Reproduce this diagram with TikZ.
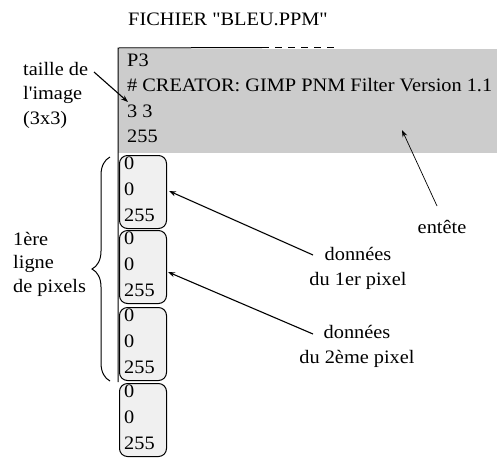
\documentclass[tikz,border=0pt]{standalone}
\usepackage{fontspec}
\setmainfont[FakeStretch=1.07,Ligatures=TeXOff]{Liberation Serif}
\usetikzlibrary{arrows.meta,decorations.pathreplacing}
\definecolor{hdrgray}{RGB}{204,204,204}
\definecolor{pixfill}{RGB}{240,240,240}
\tikzset{
  txt/.style={inner sep=0pt, anchor=base west, font=\fontsize{19pt}{24pt}\selectfont},
  ctxt/.style={inner sep=0pt, anchor=base, font=\fontsize{19pt}{24pt}\selectfont},
  pixbox/.style={draw=black, line width=1pt, fill=pixfill, rounded corners=8pt,
    minimum width=47pt, minimum height=73pt, inner sep=0pt, anchor=north west},
  arr/.style={line width=1.1pt, -{Stealth[length=7pt,width=5pt]}},
  thinarr/.style={line width=0.7pt, -{Stealth[length=7pt,width=5pt]}}
}
\begin{document}
\begin{tikzpicture}[x=1pt,y=-1pt]
\useasboundingbox (0,0) rectangle (502,472);
% title
\node[txt] (title) at (128,25) {FICHIER "BLEU.PPM"};
% header
\node[fill=hdrgray, minimum width=379pt, minimum height=104pt, inner sep=0pt, anchor=north west] (hdr) at (118,49) {};
\node[txt] (l1) at (127,66) {P3};
\node[txt] (l2) at (127,91) {\# CREATOR: GIMP PNM Filter Version 1.1};
\node[txt] (l3) at (127,117) {3 3};
\node[txt] (l4) at (127,142) {255};
% borders
\coordinate (tl) at (118,48);
\coordinate (ts) at (262,47.5);
\coordinate (te) at (340,47.5);
\coordinate (bl) at (118,382);
\draw[line width=1pt] (bl) -- (tl) -- (ts);
\draw[line width=1pt, dash pattern=on 7pt off 6pt] (ts) -- (te);
% pixel boxes
\foreach \i/\y in {1/155, 2/230, 3/307, 4/383}{
  \node[pixbox] (b\i) at (119,\y) {};
  \node[txt] (b\i a) at (124,\y+14) {0};
  \node[txt] (b\i b) at (124,\y+40) {0};
  \node[txt] (b\i c) at (124,\y+66) {255};
}
% brace
\coordinate (brt) at (110,157);
\coordinate (brb) at (110,381);
\draw[line width=1pt, decorate, decoration={brace, amplitude=18pt, mirror}] (brt) -- (brb);
% left labels
\node[txt] (t1) at (23,75) {taille de};
\node[txt] (t2) at (23,99) {l'image};
\node[txt] (t3) at (23,124) {(3x3)};
\node[txt] (p1) at (13,245) {1ère};
\node[txt] (p2) at (13,268.5) {ligne};
\node[txt] (p3) at (13,292) {de pixels};
% right labels
\node[ctxt] (ent) at (442,233) {entête};
\node[ctxt] (d1a) at (358,260) {données};
\node[ctxt] (d1b) at (358,285) {du 1er pixel};
\node[ctxt] (d2a) at (357,338) {données};
\node[ctxt] (d2b) at (357,363) {du 2ème pixel};
% arrows
\coordinate (tailt) at (94,72);
\coordinate (tipt) at (128,102);
\draw[arr] (tailt) -- (tipt);
\coordinate (taile) at (437,206);
\coordinate (tipe) at (402,130);
\draw[thinarr] (taile) -- (tipe);
\coordinate (tail1) at (313,255);
\coordinate (tip1) at (169,191);
\draw[arr] (tail1) -- (tip1);
\coordinate (tail2) at (313,334);
\coordinate (tip2) at (168,272);
\draw[arr] (tail2) -- (tip2);
\end{tikzpicture}
\end{document}
